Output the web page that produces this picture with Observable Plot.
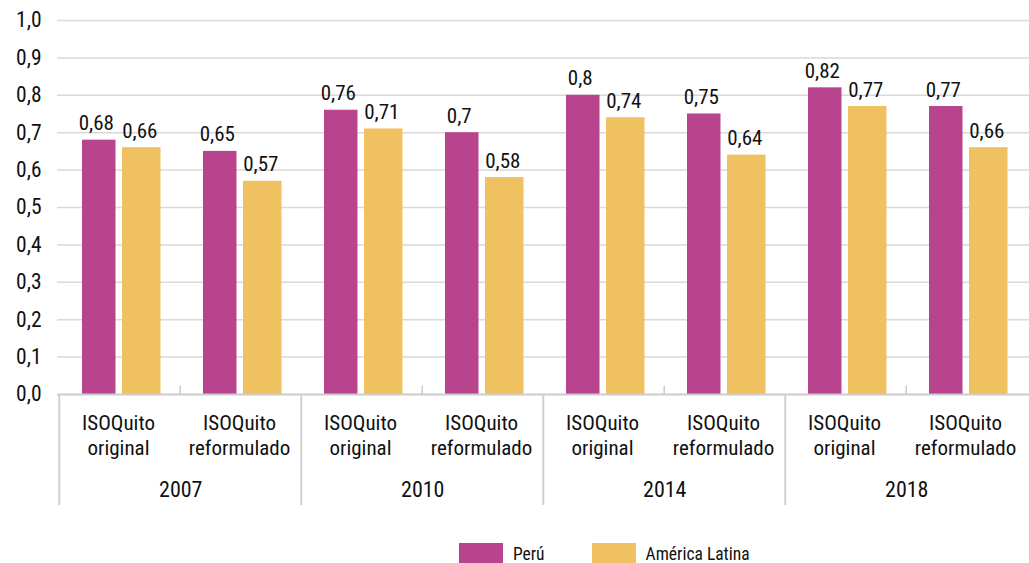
<!DOCTYPE html>
<html>
<head>
<meta charset="utf-8">
<script src="https://cdn.jsdelivr.net/npm/d3@7"></script>
<script src="https://cdn.jsdelivr.net/npm/@observablehq/plot@0.6"></script>
<style>
  html, body { margin: 0; padding: 0; background: #ffffff; }
  #chart { width: 1029px; }
  .legend { display: flex; align-items: center; padding-top: 23px; margin-left: 459px; font-size: 17.5px; color: #111111; }
  .legend .sw { width: 44px; height: 22px; display: inline-block; }
  .legend .lab { margin-left: 10px; margin-right: 47px; line-height: 22px; }
</style>
</head>
<body>
<div id="chart"></div>
<script>
const FONT = '"Roboto Condensed","Liberation Sans Narrow","Arial Narrow",Roboto,sans-serif';

// Data
const years = ["2007", "2010", "2014", "2018"];
const variants = ["ISOQuito original", "ISOQuito reformulado"];
const variantLabels = ["ISOQuito\noriginal", "ISOQuito\nreformulado"];
const seriesNames = ["Perú", "América Latina"];
const peruValues  = [0.68, 0.65, 0.76, 0.70, 0.80, 0.75, 0.82, 0.77];
const latamValues = [0.66, 0.57, 0.71, 0.58, 0.74, 0.64, 0.77, 0.66];
const yTicks = [0, 0.1, 0.2, 0.3, 0.4, 0.5, 0.6, 0.7, 0.8, 0.9, 1.0];

const colors = ["#b8448e", "#f0c160"];
const INK = "#111111";

const cats = [];
years.forEach(y => variants.forEach(v => cats.push(y + " " + v)));
const rows = cats.map((c, i) => ({
  cat: c,
  year: years[Math.floor(i / 2)],
  variant: variants[i % 2],
  label: variantLabels[i % 2],
  peru: peruValues[i],
  latam: latamValues[i]
}));
const firstOfYear = rows.filter(r => r.variant === variants[0]);
const secondOfYear = rows.filter(r => r.variant === variants[1]);

const W = 1029, H = 520, ML = 57, MR = 0, MT = 20, MB = 126;
const bw = (W - ML - MR) / cats.length;
const fmt = v => String(+v.toFixed(2)).replace(".", ",");

const chart = Plot.plot({
  width: W,
  height: H,
  marginLeft: ML,
  marginRight: MR,
  marginTop: MT,
  marginBottom: MB,
  style: { fontFamily: FONT, fontSize: "20px", color: INK, background: "#ffffff" },
  x: { domain: cats, padding: 0, axis: null },
  y: { domain: [0, 1], axis: null },
  marks: [
    Plot.ruleY(yTicks.filter(d => d > 0), { stroke: "#d9d9d9", strokeWidth: 1.5 }),
    Plot.axisY(yTicks, { tickSize: 0, tickPadding: 16, fontSize: 21.5, fill: INK, tickFormat: d => d.toFixed(1).replace(".", ",") }),
    Plot.barY(rows, { x: "cat", y: "peru", fill: colors[0], insetLeft: 23, insetRight: bw - 57 }),
    Plot.barY(rows, { x: "cat", y: "latam", fill: colors[1], insetLeft: 63, insetRight: bw - 102 }),
    Plot.text(rows, { x: "cat", y: "peru", text: d => fmt(d.peru), dx: 37 - bw / 2, dy: -10, lineAnchor: "bottom", fontSize: 21, fill: INK }),
    Plot.text(rows, { x: "cat", y: "latam", text: d => fmt(d.latam), dx: 80.5 - bw / 2, dy: -10, lineAnchor: "bottom", fontSize: 21, fill: INK }),
    Plot.ruleY([0], { stroke: "#cccccc", strokeWidth: 2 }),
    Plot.ruleX(secondOfYear, { x: "cat", dx: -bw / 2, y1: 0, y2: 0.022, stroke: "#cccccc", strokeWidth: 1.5 }),
    Plot.ruleX(firstOfYear, { x: "cat", dx: -bw / 2, y1: 0, y2: -0.297, stroke: "#d0d0d0", strokeWidth: 2 }),
    Plot.text(rows, { x: "cat", text: "label", frameAnchor: "bottom", lineAnchor: "top", dx: -1.5, dy: 17, lineHeight: 1.21, fontSize: 21, fill: INK }),
    Plot.text(firstOfYear, { x: "cat", text: "year", frameAnchor: "bottom", lineAnchor: "top", dx: bw / 2, dy: 87, fontSize: 22, fill: INK })
  ]
});
document.getElementById("chart").appendChild(chart);

const legend = document.createElement("div");
legend.className = "legend";
legend.style.fontFamily = FONT;
seriesNames.forEach((name, i) => {
  const sw = document.createElement("span");
  sw.className = "sw";
  sw.style.background = colors[i];
  const lab = document.createElement("span");
  lab.className = "lab";
  lab.textContent = name;
  legend.appendChild(sw);
  legend.appendChild(lab);
});
document.getElementById("chart").appendChild(legend);
</script>
</body>
</html>
